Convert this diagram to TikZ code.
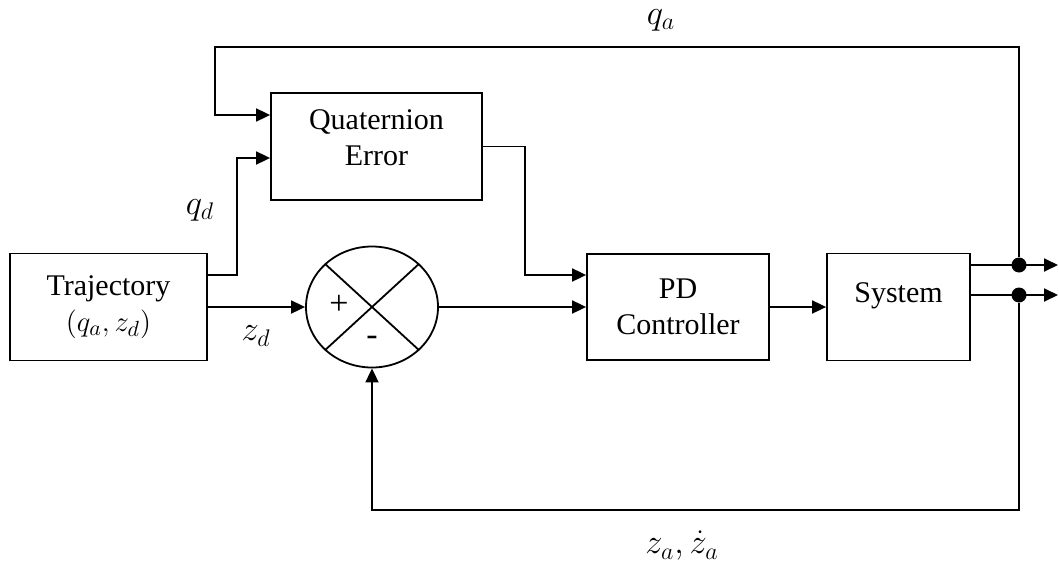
\documentclass[tikz,border=0pt]{standalone}
\usepackage{fontspec}
\setmainfont{Liberation Serif}
\usetikzlibrary{arrows.meta,shapes.geometric}

\begin{document}
\begin{tikzpicture}[x=0.5pt,y=-0.5pt,>={Triangle[length=7pt,width=6.5pt]},line width=0.9pt,
  block/.style={draw,rectangle,align=center,inner sep=0pt,font=\fontsize{15}{18}\selectfont},
  lbl/.style={inner sep=1pt,font=\fontsize{17}{20}\selectfont},
  dot/.style={circle,fill,inner sep=0pt,minimum size=7.5pt}]

\useasboundingbox (0,0) rectangle (1059,562);

% ---------------- blocks ----------------
\node[block,minimum width=98.5pt,minimum height=53.5pt] (traj) at (108.5,307) {Trajectory\\$(q_a,z_d)$};
\node[block,minimum width=105.5pt,minimum height=53.5pt,text depth=9pt] (qe) at (376.5,146.5) {Quaternion\\Error};
\node[draw,ellipse,inner sep=0pt,minimum width=66pt,minimum height=60.5pt] (sum) at (372,307) {};
\node[block,minimum width=91pt,minimum height=53pt] (pd) at (678,307) {PD\\Controller};
\node[block,minimum width=71.5pt,minimum height=53.5pt,text depth=14pt] (sys) at (898.5,307) {System};

% summing junction
\draw (sum.north west) -- (sum.south east);
\draw (sum.north east) -- (sum.south west);
\node[lbl] at (339,305) {+};
\node[lbl] at (372,341) {-};

% ---------------- branch points ----------------
\node[dot] (dota) at (1019,265) {};
\node[dot] (dotb) at (1019,295) {};
\coordinate (outa) at (1058,265);
\coordinate (outb) at (1058,295);
\coordinate (ctop) at (215,47);
\coordinate (cbot) at (372,510);

% ---------------- signals ----------------
\draw[->] ([yshift=16pt]traj.east) -- ++(29,0) |- ([yshift=-5.75pt]qe.west);
\draw[->] (traj.east) -- (sum.west);
\draw[->] (qe.east) -- ++(42,0) |- ([yshift=16pt]pd.west);
\draw[->] (sum.east) -- (pd.west);
\draw[->] (pd.east) -- (sys.west);
\draw[->] ([yshift=21pt]sys.east) -- (outa);
\draw[->] ([yshift=6pt]sys.east) -- (outb);
\draw[->] (dota) |- (ctop) |- ([yshift=15.75pt]qe.west);
\draw[->] (dotb) |- (cbot) -- (sum.south);

% ---------------- labels ----------------
\node[lbl] (lqd) at (200,210) {$q_d$};
\node[lbl] (lzd) at (256,336) {$z_d$};
\node[lbl] (lqa) at (661,20) {$q_a$};
\node[lbl] (lza) at (682,546) {$z_a,\dot{z}_a$};

\end{tikzpicture}
\end{document}
